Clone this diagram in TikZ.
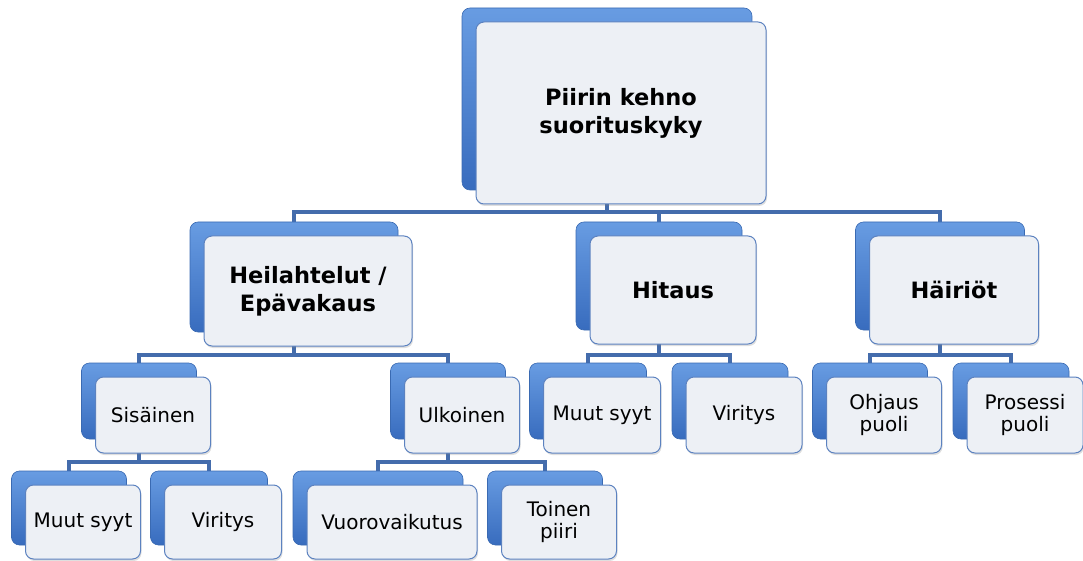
\documentclass[tikz,border=0pt]{standalone}
\usepackage{fontspec}
\setmainfont{DejaVu Sans}
\usetikzlibrary{backgrounds,shadows}

\definecolor{backtop}{RGB}{104,156,226}
\definecolor{backmid}{RGB}{68,126,208}
\definecolor{backbot}{RGB}{56,108,190}
\definecolor{backedge}{RGB}{58,106,178}
\definecolor{frontfill}{RGB}{237,240,245}
\definecolor{frontedge}{RGB}{92,130,192}
\definecolor{linkblue}{RGB}{68,108,172}

\begin{document}
\begin{tikzpicture}[x=1pt, y=-1pt,
    backbox/.style={rounded corners=8pt, draw=backedge, line width=0.6pt,
      top color=backtop, middle color=backmid, bottom color=backbot, inner sep=0pt},
    frontbox/.style={rounded corners=8pt, draw=frontedge, line width=1pt, fill=frontfill,
      drop shadow={shadow xshift=1pt, shadow yshift=-2pt, opacity=0.25},
      inner sep=0pt, align=center},
    bigtext/.style={font=\fontsize{22.5}{28}\selectfont\bfseries},
    smalltext/.style={font=\fontsize{20}{22}\selectfont},
    conn/.style={draw=linkblue, line width=4.5pt}]
  \useasboundingbox (0,0) rectangle (1083,561);

  % upper levels, bold text
  \foreach \n/\x/\y/\w/\h/\t in {root/607/99/290/182/{Piirin kehno\\suorituskyky},
      heil/294/277/208/110/{Heilahtelut /\\Epävakaus},
      hit/659/276/166/108/{Hitaus},
      hai/940/276/169/108/{Häiriöt}}
  {
    \node[backbox, minimum width=\w pt, minimum height=\h pt] (\n-b) at (\x,\y) {};
    \node[frontbox, bigtext, minimum width=\w pt, minimum height=\h pt] (\n) at (\x+14,\y+14) {\t};
  }

  % lower levels
  \foreach \n/\x/\y/\w/\h/\t in {sis/139/401/115/76/{Sisäinen},
      ulk/448/401/115/76/{Ulkoinen},
      hmuut/588/401/117/76/{Muut syyt},
      hvir/730/401/116/76/{Viritys},
      ohj/870/401/115/76/{Ohjaus\\puoli},
      pros/1011/401/116/76/{Prosessi\\puoli},
      smuut/69/508/115/74/{Muut syyt},
      svir/209/508/117/74/{Viritys},
      vuoro/378/508/170/74/{Vuorovaikutus},
      toinen/545/508/115/74/{Toinen\\piiri}}
  {
    \node[backbox, minimum width=\w pt, minimum height=\h pt] (\n-b) at (\x,\y) {};
    \node[frontbox, smalltext, minimum width=\w pt, minimum height=\h pt] (\n) at (\x+14,\y+14) {\t};
  }

  \begin{scope}[on background layer]
    \coordinate (bus1) at (0,212);
    \coordinate (bus2) at (0,355);
    \coordinate (bus3) at (0,462);
    \foreach \p/\c/\b in {root/heil/bus1, root/hit/bus1, root/hai/bus1,
        heil/sis/bus2, heil/ulk/bus2, hit/hmuut/bus2, hit/hvir/bus2,
        hai/ohj/bus2, hai/pros/bus2,
        sis/smuut/bus3, sis/svir/bus3, ulk/vuoro/bus3, ulk/toinen/bus3}
      \draw[conn] (\p-b.south) |- (\c-b.north |- \b) -- (\c-b.north);
  \end{scope}
\end{tikzpicture}
\end{document}
